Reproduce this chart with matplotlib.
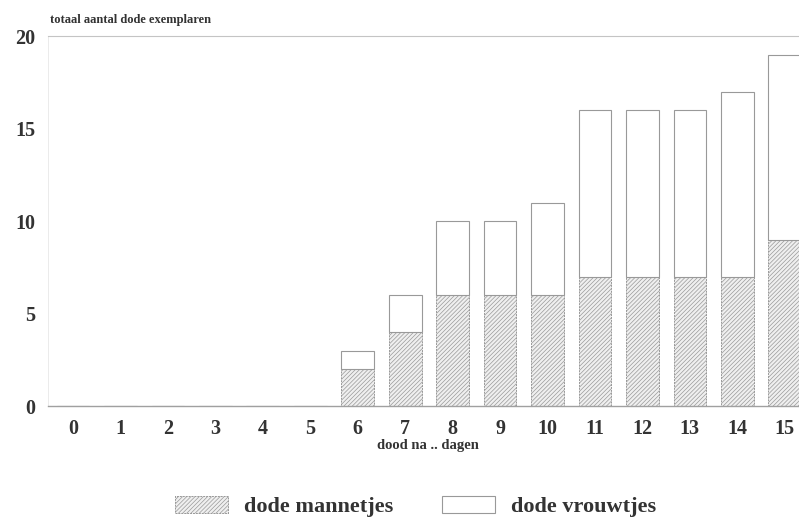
import matplotlib.pyplot as plt
import matplotlib as mpl
import numpy as np

# data
days = list(range(16))
males = [0, 0, 0, 0, 0, 0, 2, 4, 6, 6, 6, 7, 7, 7, 7, 9]
totals = [0, 0, 0, 0, 0, 0, 3, 6, 10, 10, 11, 16, 16, 16, 17, 19]
females = [t - m for t, m in zip(totals, males)]

plt.rcParams['font.family'] = ['Liberation Serif', 'DejaVu Serif']
mpl.rcParams['hatch.color'] = '#a8a8a8'
mpl.rcParams['hatch.linewidth'] = 0.5

fig = plt.figure(figsize=(7.99, 5.18), dpi=100)
ax = fig.add_axes([0.060, 0.216, 0.940, 0.7145])

x = np.array(days)
w = 0.69
ax.bar(x, males, width=w, color='#efefef', edgecolor='#999999', hatch='////////',
       linewidth=0.7, linestyle=(0, (2, 1)), label='dode mannetjes')
ax.bar(x, females, bottom=males, width=w, color='white', edgecolor='#999999',
       linewidth=0.8, label='dode vrouwtjes')

ax.set_xlim(-0.53, 15.3)
ax.set_ylim(0, 20)
ax.set_yticks([0, 5, 10, 15, 20])
ax.set_xticks(days)
ax.tick_params(axis='both', length=0, labelsize=14.5, colors='#333333')
for lab in ax.get_xticklabels() + ax.get_yticklabels():
    lab.set_fontweight('bold')
ax.tick_params(axis='x', pad=9)
ax.tick_params(axis='y', pad=9)

for s in ['left', 'right']:
    ax.spines[s].set_visible(False)
ax.spines['top'].set_color('#c4c4c4')
ax.spines['top'].set_linewidth(0.8)
ax.spines['bottom'].set_color('#a0a0a0')
ax.spines['bottom'].set_linewidth(1.0)
ax.axvline(-0.53, color='#e8e8e8', lw=0.6)

fig.text(0.063, 0.962, 'totaal aantal dode exemplaren', fontsize=9,
         fontweight='bold', color='#333333', va='center')
fig.text(0.535, 0.139, 'dood na .. dagen', fontsize=10.5, fontweight='bold',
         color='#333333', ha='center', va='center')

leg = fig.legend(loc='center', bbox_to_anchor=(0.52, 0.022), ncol=2,
                 frameon=False, handlelength=2.4, handleheight=0.8,
                 columnspacing=2.2, handletextpad=0.7,
                 prop={'weight': 'bold', 'size': 16})
for t in leg.get_texts():
    t.set_color('#333333')

fig.savefig('out.png', dpi=100)
